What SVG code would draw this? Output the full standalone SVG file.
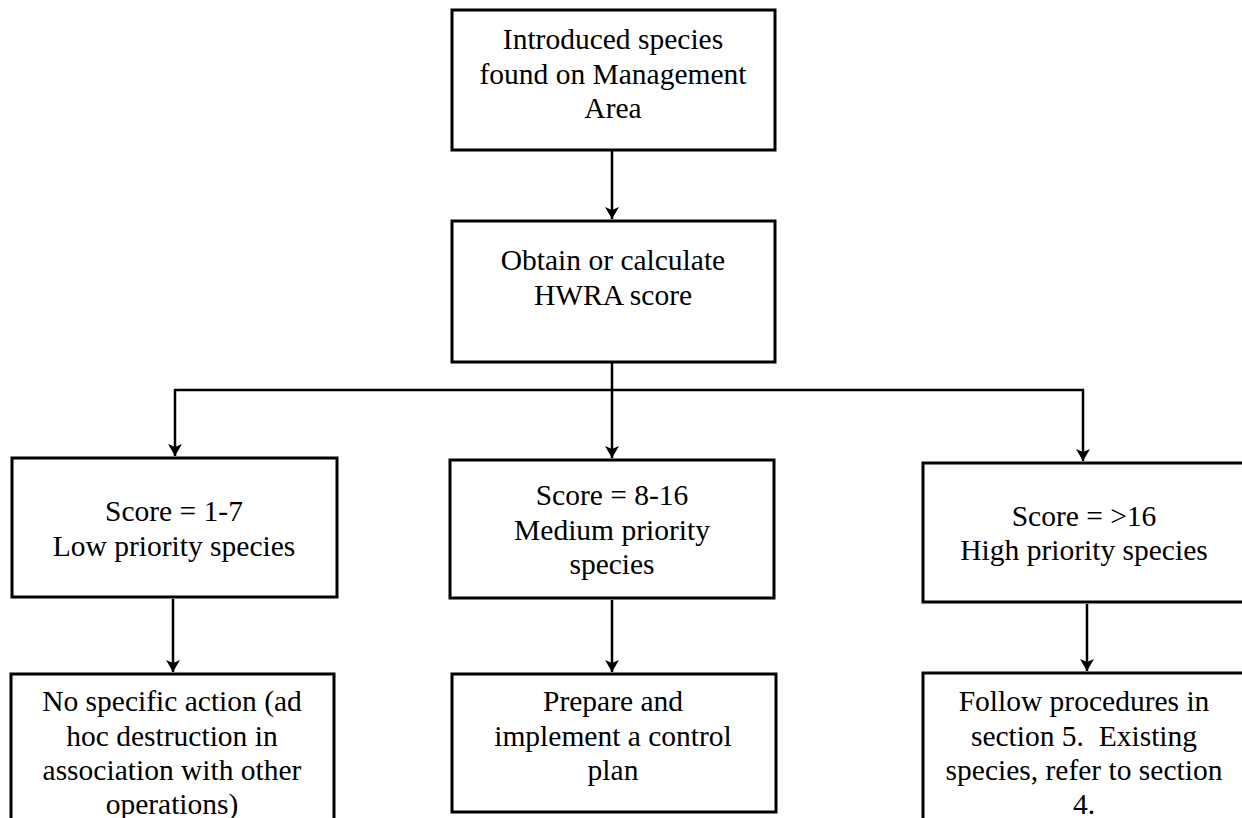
<svg xmlns="http://www.w3.org/2000/svg" width="1242" height="818" viewBox="0 0 1242 818">
  <defs>
    <marker id="arrow" viewBox="0 0 12 14" markerWidth="12" markerHeight="14" refX="12" refY="7" orient="auto" markerUnits="userSpaceOnUse">
      <path d="M0,0 L12,7 L0,14 L3,7 z" fill="#000"/>
    </marker>
    <style>
      .box { fill: #fff; stroke: #000; stroke-width: 3; }
      .conn { fill: none; stroke: #000; stroke-width: 2.5; }
      .lbl { font-family: "Liberation Serif", "DejaVu Serif", serif; font-size: 29.5px; fill: #000; text-anchor: middle; }
    </style>
  </defs>
  <rect width="1242" height="818" fill="#fff"/>

  <g id="connectors">
    <line class="conn" x1="612" y1="151" x2="612" y2="219" marker-end="url(#arrow)"/>
    <polyline class="conn" points="612,363 612,390"/>
    <line class="conn" x1="175" y1="390" x2="1084" y2="390"/>
    <line class="conn" x1="175" y1="389" x2="175" y2="456" marker-end="url(#arrow)"/>
    <line class="conn" x1="612" y1="390" x2="612" y2="458" marker-end="url(#arrow)"/>
    <line class="conn" x1="1083" y1="389" x2="1083" y2="461" marker-end="url(#arrow)"/>
    <line class="conn" x1="173" y1="599" x2="173" y2="672" marker-end="url(#arrow)"/>
    <line class="conn" x1="612" y1="600" x2="612" y2="672" marker-end="url(#arrow)"/>
    <line class="conn" x1="1087" y1="604" x2="1087" y2="671" marker-end="url(#arrow)"/>
  </g>

  <g id="n-introduced">
    <rect class="box" x="452" y="10" width="323" height="140"/>
    <text class="lbl" x="613" y="49">Introduced species</text>
    <text class="lbl" x="613" y="84">found on Management</text>
    <text class="lbl" x="613" y="118">Area</text>
  </g>

  <g id="n-hwra">
    <rect class="box" x="452" y="221" width="323" height="141"/>
    <text class="lbl" x="613" y="270">Obtain or calculate</text>
    <text class="lbl" x="613" y="305">HWRA score</text>
  </g>

  <g id="n-low">
    <rect class="box" x="12" y="458" width="325" height="139"/>
    <text class="lbl" x="174" y="521">Score = 1-7</text>
    <text class="lbl" x="174" y="556">Low priority species</text>
  </g>

  <g id="n-medium">
    <rect class="box" x="450" y="460" width="324" height="138"/>
    <text class="lbl" x="612" y="505">Score = 8-16</text>
    <text class="lbl" x="612" y="540">Medium priority</text>
    <text class="lbl" x="612" y="574">species</text>
  </g>

  <g id="n-high">
    <rect class="box" x="923" y="463" width="330" height="139"/>
    <text class="lbl" x="1084" y="526">Score = &gt;16</text>
    <text class="lbl" x="1084" y="560">High priority species</text>
  </g>

  <g id="n-noaction">
    <rect class="box" x="11" y="674" width="323" height="160"/>
    <text class="lbl" x="172" y="711">No specific action (ad</text>
    <text class="lbl" x="172" y="746">hoc destruction in</text>
    <text class="lbl" x="172" y="780">association with other</text>
    <text class="lbl" x="172" y="814">operations)</text>
  </g>

  <g id="n-control">
    <rect class="box" x="452" y="674" width="324" height="138"/>
    <text class="lbl" x="613" y="711">Prepare and</text>
    <text class="lbl" x="613" y="746">implement a control</text>
    <text class="lbl" x="613" y="780">plan</text>
  </g>

  <g id="n-follow">
    <rect class="box" x="923" y="673" width="330" height="160"/>
    <text class="lbl" x="1084" y="711">Follow procedures in</text>
    <text class="lbl" x="1084" y="746" xml:space="preserve">section 5.  Existing</text>
    <text class="lbl" x="1084" y="780">species, refer to section</text>
    <text class="lbl" x="1084" y="814">4.</text>
  </g>
</svg>
